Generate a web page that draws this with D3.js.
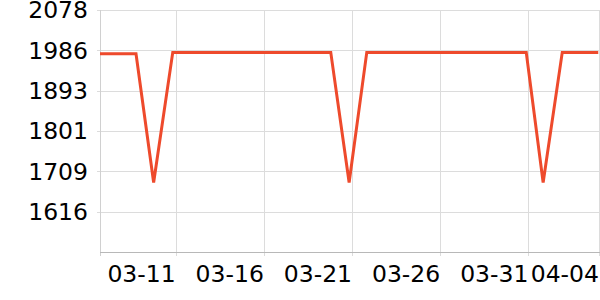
<!DOCTYPE html>
<html>
<head>
<meta charset="utf-8">
<script src="https://cdn.jsdelivr.net/npm/d3@7"></script>
<style>
  body { margin: 0; background: #fff; }
  svg { display: block; font-family: "DejaVu Sans", sans-serif; }
</style>
</head>
<body>
<svg id="chart"></svg>
<script>
// line vertices (time, value)
const times = [
  "2024-03-06 17:00", "2024-03-08 18:00", "2024-03-09 18:00", "2024-03-10 20:00",
  "2024-03-19 19:00", "2024-03-20 20:00", "2024-03-21 20:00",
  "2024-03-30 21:00", "2024-03-31 20:00", "2024-04-01 22:00", "2024-04-03 23:00"
];
const values = [1978, 1978, 1683, 1981, 1981, 1683, 1981, 1981, 1683, 1981, 1981];

const yTicks = [1616, 1709, 1801, 1893, 1986, 2078];
const yMin = 1523.7, yMax = 2078.1;
const xTicks = ["2024-03-11", "2024-03-16", "2024-03-21", "2024-03-26", "2024-03-31", "2024-04-04"];

const width = 600, height = 300;
const plotLeft = 100, plotRight = 599, plotTop = 10, plotBottom = 252;

const parseTime = d3.timeParse("%Y-%m-%d %H:%M");
const parseDay = d3.timeParse("%Y-%m-%d");
const data = times.map((t, i) => ({ date: parseTime(t), value: values[i] }));

const svg = d3.select("#chart").attr("width", width).attr("height", height);

// first point at the left edge, 04-04 at the right edge
const x = d3.scaleTime()
  .domain([parseTime(times[0]), parseDay("2024-04-04")])
  .range([plotLeft, plotRight]);
const y = d3.scaleLinear().domain([yMin, yMax]).range([plotBottom, plotTop]);

// labels are rounded, the top one sits on the domain max
const tickY = d => d === 2078 ? y(yMax) : y(d);

// horizontal grid
svg.append("g")
  .selectAll("line")
  .data(yTicks)
  .enter().append("line")
  .attr("x1", plotLeft - 3).attr("x2", width)
  .attr("y1", d => Math.round(tickY(d)) + 0.5)
  .attr("y2", d => Math.round(tickY(d)) + 0.5)
  .attr("stroke", "#dcdcdc");

// vertical grid
svg.append("g")
  .selectAll("line")
  .data(xTicks.map(parseDay))
  .enter().append("line")
  .attr("x1", d => Math.round(x(d)) + 0.5).attr("x2", d => Math.round(x(d)) + 0.5)
  .attr("y1", plotTop).attr("y2", plotBottom + 4)
  .attr("stroke", "#dcdcdc");

// axis lines
svg.append("line")
  .attr("x1", plotLeft + 0.5).attr("x2", plotLeft + 0.5)
  .attr("y1", plotTop).attr("y2", plotBottom + 4)
  .attr("stroke", "#d0d0d0");
svg.append("line")
  .attr("x1", plotLeft).attr("x2", width)
  .attr("y1", plotBottom + 0.5).attr("y2", plotBottom + 0.5)
  .attr("stroke", "#b8b8b8");

// y labels
svg.append("g")
  .selectAll("text")
  .data(yTicks)
  .enter().append("text")
  .attr("x", 88)
  .attr("y", d => tickY(d))
  .attr("dy", "0.36em")
  .attr("text-anchor", "end")
  .attr("font-size", 23.5)
  .attr("fill", "#000")
  .text(d => d);

// x labels, right aligned to their tick
svg.append("g")
  .selectAll("text")
  .data(xTicks)
  .enter().append("text")
  .attr("x", d => x(parseDay(d)))
  .attr("y", 282)
  .attr("text-anchor", "end")
  .attr("font-size", 23.5)
  .attr("fill", "#000")
  .text(d => d3.timeFormat("%m-%d")(parseDay(d)));

// line
const line = d3.line().x(d => x(d.date)).y(d => y(d.value));
svg.append("path")
  .datum(data)
  .attr("fill", "none")
  .attr("stroke", "#ee4a2c")
  .attr("stroke-width", 3)
  .attr("d", line);
</script>
</body>
</html>
